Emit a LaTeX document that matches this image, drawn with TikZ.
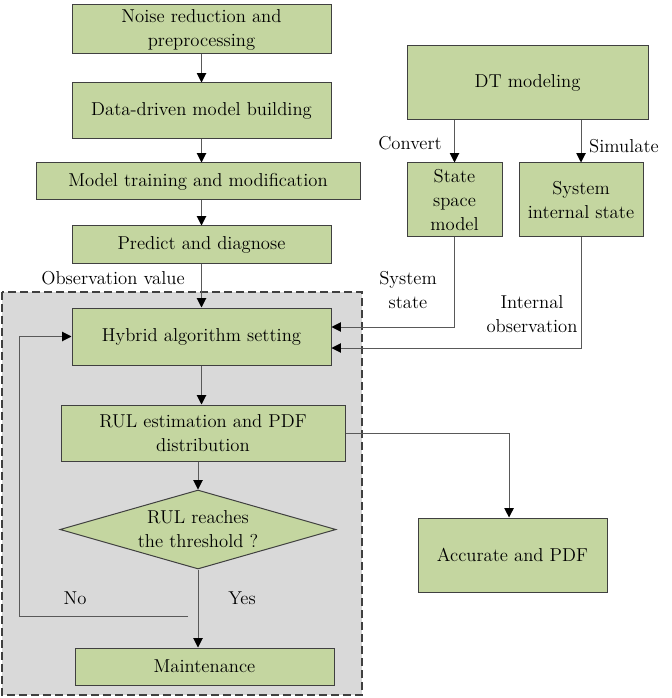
\documentclass[tikz,border=0pt]{standalone}
\usepackage{fontspec}
\usetikzlibrary{arrows.meta,shapes.geometric}
\definecolor{boxfill}{HTML}{C4D6A0}
\definecolor{boxline}{HTML}{404040}
\definecolor{connline}{HTML}{595959}
\definecolor{panelfill}{HTML}{D9D9D9}
\tikzset{
  stepbox/.style={draw=boxline, fill=boxfill, line width=0.75pt, inner sep=0pt, align=center,
    font=\fontsize{14}{18}\selectfont},
  lbl/.style={inner sep=0pt, align=center, font=\fontsize{14}{18}\selectfont},
  conn/.style={draw=connline, line width=0.75pt, -{Triangle[width=7pt,length=7pt,fill=black,color=black]}},
}
\begin{document}
\begin{tikzpicture}[x=0.75pt,y=-0.75pt]
\useasboundingbox (0,0) rectangle (671,698);
% panel
\draw[fill=panelfill, draw=boxline, line width=1pt, dash pattern=on 6pt off 3pt] (2,292) rectangle (362,695);
% left column
\node[stepbox, minimum width=259*0.75pt, minimum height=49*0.75pt] (b1) at (201.5,29.5) {Noise reduction and\\preprocessing};
\node[stepbox, minimum width=259*0.75pt, minimum height=56*0.75pt] (b2) at (201.5,111) {Data-driven model building};
\node[stepbox, minimum width=324*0.75pt, minimum height=37*0.75pt] (b3) at (198,181.5) {Model training and modification};
\node[stepbox, minimum width=259*0.75pt, minimum height=37*0.75pt] (b4) at (201.5,244.5) {Predict and diagnose};
\node[stepbox, minimum width=259*0.75pt, minimum height=57*0.75pt] (hyb) at (201.5,336.5) {Hybrid algorithm setting};
\node[stepbox, minimum width=284*0.75pt, minimum height=56*0.75pt] (rul) at (203,433) {RUL estimation and PDF\\distribution};
\node[stepbox, diamond, minimum width=276*0.75pt, minimum height=79*0.75pt, aspect=3.5] (dia) at (198,529.5) {RUL reaches\\the threshold ?};
\node[stepbox, minimum width=259*0.75pt, minimum height=37*0.75pt] (mnt) at (204.5,666.5) {Maintenance};
% right column
\node[stepbox, minimum width=241*0.75pt, minimum height=74*0.75pt] (dt) at (527.5,83) {DT modeling};
\node[stepbox, minimum width=95*0.75pt, minimum height=74*0.75pt] (ssm) at (454.5,200) {State\\space\\model};
\node[stepbox, minimum width=124*0.75pt, minimum height=74*0.75pt] (sis) at (581,200) {System\\internal state};
\node[stepbox, minimum width=189*0.75pt, minimum height=74*0.75pt] (acc) at (512.5,555) {Accurate and PDF};
% labels
\node[lbl] (lobs) at (113,278) {Observation value};
\node[lbl] (lconv) at (410,143) {Convert};
\node[lbl] (lsim) at (624,146) {Simulate};
\node[lbl] (lsys) at (408,290) {System\\state};
\node[lbl] (lint) at (532,314) {Internal\\observation};
\node[lbl] (lno) at (75,598) {No};
\node[lbl] (lyes) at (242,598) {Yes};
% connectors
\draw[conn] (b1.south) -- (b2.north);
\draw[conn] (b2.south) -- (b3.north -| b2.south);
\draw[conn] (b3.south -| b4.north) -- (b4.north);
\draw[conn] (b4.south) -- (hyb.north);
\draw[conn] (hyb.south) -- (rul.north -| hyb.south);
\draw[conn] (rul.south -| dia.north) -- (dia.north);
\draw[conn] (dia.south) -- (mnt.north -| dia.south);
\coordinate (noend) at (188,616);
\coordinate (loopc) at (19,616);
\draw[conn] (noend) -- (loopc) |- (hyb.west);
\draw[conn] (dt.south -| ssm.north) -- (ssm.north);
\draw[conn] (dt.south -| sis.north) -- (sis.north);
\draw[conn] (ssm.south) |- ([yshift=7.125pt]hyb.east);
\draw[conn] (sis.south) |- ([yshift=-8.625pt]hyb.east);
\draw[conn] (rul.east) -| ([xshift=-2.6pt]acc.north);
\end{tikzpicture}
\end{document}
